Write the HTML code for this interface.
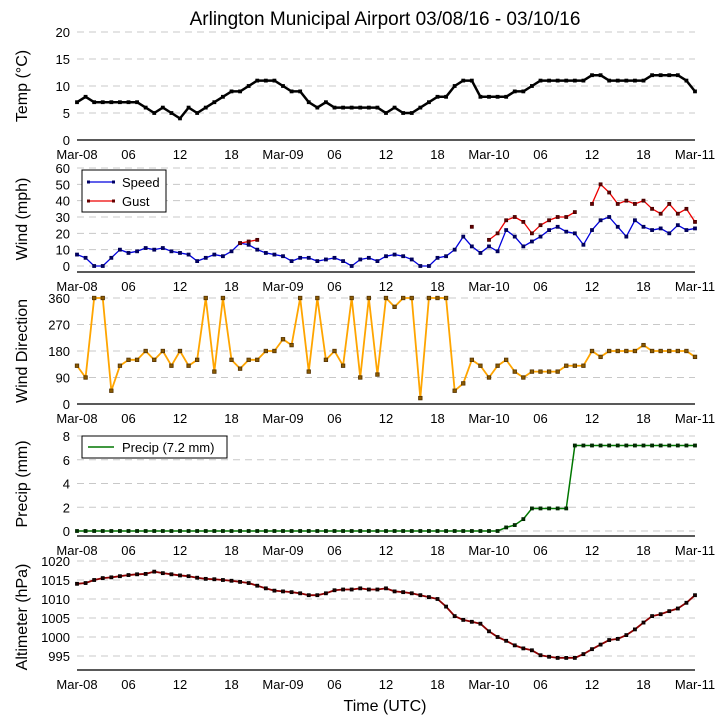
<!DOCTYPE html>
<html><head><meta charset="utf-8">
<style>
body{margin:0;background:#fff;}
svg{display:block;font-family:"Liberation Sans","DejaVu Sans",sans-serif;}
</style></head>
<body>
<svg id="chart" width="726" height="725" viewBox="0 0 726 725" xmlns="http://www.w3.org/2000/svg">
<text x="385" y="25" font-size="19" text-anchor="middle">Arlington Municipal Airport 03/08/16 - 03/10/16</text>
<text x="385" y="711" font-size="16" text-anchor="middle">Time (UTC)</text>
</svg>
<script>
// hours since Mar-08 00Z
const hours = [];
for (let i = 0; i <= 72; i++) hours.push(i);
const xTickLabels = ["Mar-08","06","12","18","Mar-09","06","12","18","Mar-10","06","12","18","Mar-11"];
const xTickHours = [0,6,12,18,24,30,36,42,48,54,60,66,72];

const tempValues = [7,8,7,7,7,7,7,7,6,5,6,5,4,6,5,6,7,8,9,9,10,11,11,11,10,9,9,7,6,7,6,6,6,6,6,6,5,6,5,5,6,7,8,8,10,11,11,8,8,8,8,9,9,10,11,11,11,11,11,11,12,12,11,11,11,11,11,12,12,12,12,11,9];
const speedValues = [7,5,0,0,5,10,8,9,11,10,11,9,8,7,3,5,7,6,9,14,13,10,8,7,6,3,5,5,3,4,5,3,0,4,5,3,6,7,6,4,0,0,5,6,10,18,12,8,12,9,22,18,12,15,18,22,24,21,20,13,22,28,30,24,18,28,24,22,23,20,25,22,23];
const gustValues = [null,null,null,null,null,null,null,null,null,null,null,null,null,null,null,null,null,null,null,14,15,16,null,null,null,null,null,null,null,null,null,null,null,null,null,null,null,null,null,null,null,null,null,null,null,null,24,null,16,20,28,30,27,20,25,28,30,30,33,null,38,50,45,38,40,38,40,35,32,38,32,35,27];
const dirValues = [130,90,360,360,45,130,150,150,180,150,180,130,180,130,150,360,110,360,150,120,150,150,180,180,220,200,360,110,360,150,180,130,360,90,360,100,360,330,360,360,20,360,360,360,45,70,150,130,90,130,150,110,90,110,110,110,110,130,130,130,180,160,180,180,180,180,200,180,180,180,180,180,160];
const precipValues = [0,0,0,0,0,0,0,0,0,0,0,0,0,0,0,0,0,0,0,0,0,0,0,0,0,0,0,0,0,0,0,0,0,0,0,0,0,0,0,0,0,0,0,0,0,0,0,0,0,0,0.3,0.5,1.0,1.9,1.9,1.9,1.9,1.9,7.2,7.2,7.2,7.2,7.2,7.2,7.2,7.2,7.2,7.2,7.2,7.2,7.2,7.2,7.2];
const altValues = [1014,1014.2,1015,1015.5,1015.7,1016,1016.3,1016.5,1016.6,1017.2,1016.8,1016.5,1016.2,1016,1015.6,1015.3,1015.2,1015,1014.8,1014.5,1014.2,1013.5,1012.8,1012.2,1012,1011.8,1011.5,1011,1011,1011.5,1012.3,1012.5,1012.5,1012.8,1012.5,1012.5,1012.8,1012,1011.8,1011.5,1011,1010.5,1010,1008,1005.5,1004.5,1004,1003.5,1001.5,1000,999,997.8,997,996.5,995.2,994.8,994.5,994.5,994.5,995.5,996.8,998,999.2,999.5,1000.5,1002,1003.8,1005.5,1006,1006.8,1007.5,1009,1011];

const tempTicks = [0,5,10,15,20];
const windTicks = [0,10,20,30,40,50,60];
const dirTicks = [0,90,180,270,360];
const precipTicks = [0,2,4,6,8];
const altTicks = [995,1000,1005,1010,1015,1020];

const NS = "http://www.w3.org/2000/svg";
const svg = document.getElementById("chart");
const X0 = 77, X1 = 695;
function xScale(h){ return X0 + (h/72)*(X1-X0); }
function mk(tag, attrs, parent){
  const e = document.createElementNS(NS, tag);
  for (const k in attrs) e.setAttribute(k, attrs[k]);
  (parent||svg).appendChild(e);
  return e;
}
function linScale(v0,p0,v1,p1){ return v => p0 + (v-v0)*(p1-p0)/(v1-v0); }

function panel(name, top, bottom, yScale, ticks, label, labelY){
  const g = mk("g", {});
  
  
  ticks.forEach(t => {
    const y = yScale(t);
    const gl = mk("line", {x1:X0, x2:X1, y1:y, y2:y, stroke:"#c8c8c8", "stroke-dasharray":"7,5", "stroke-width":1}, g);
    
    
    const tl = mk("text", {x:70, y:y+5, "font-size":13, "text-anchor":"end"}, g);
    tl.textContent = t;
    
    
  });
  const ax = mk("line", {x1:X0, x2:X1, y1:bottom, y2:bottom, stroke:"#222", "stroke-width":1.5}, g);
  
  
  xTickHours.forEach((h,i) => {
    const t = mk("text", {x:xScale(h), y:bottom+19, "font-size":13, "text-anchor":"middle"}, g);
    t.textContent = xTickLabels[i];
    
    
  });
  const yl = mk("text", {x:0, y:0, "font-size":16, "text-anchor":"middle", transform:`translate(27,${labelY}) rotate(-90)`}, g);
  yl.textContent = label;
  
  
  return g;
}

function series(name, vals, yScale, color, mcolor, mfill, msize, lw){
  const g = mk("g", {});
  
  
  let segs = [], cur = [];
  vals.forEach((v,i) => {
    if (v === null || v === undefined) { if (cur.length) segs.push(cur); cur = []; }
    else cur.push([xScale(hours[i]), yScale(v)]);
  });
  if (cur.length) segs.push(cur);
  segs.forEach(s => {
    const p = mk("polyline", {points:s.map(q=>q.join(",")).join(" "), fill:"none", stroke:color, "stroke-width":lw, "stroke-linejoin":"round"}, g);
    
    
  });
  vals.forEach((v,i) => {
    if (v === null || v === undefined) return;
    const r = mk("rect", {x:xScale(hours[i])-msize/2, y:yScale(v)-msize/2, width:msize, height:msize, fill:mfill, stroke:mcolor, "stroke-width":0.8}, g);
    
    
  });
}

// Panel 1: temperature
const yT = linScale(0,140,20,32);
panel("temp", 32, 140, yT, tempTicks, "Temp (\u00B0C)", 86);
series("temp", tempValues, yT, "#000", "#000", "#000", 3, 2.5);

// Panel 2: wind
const yW = linScale(0,266,60,168);
panel("wind", 163, 272, yW, windTicks, "Wind (mph)", 219);
series("speed", speedValues, yW, "#0000dd", "#000055", "#000066", 3, 1.3);
series("gust", gustValues, yW, "#ee0000", "#440000", "#660000", 3, 1.3);
// legend
(function(){
  const g = mk("g", {});
  
  
  mk("rect", {x:82, y:170, width:84, height:42, fill:"#fff", stroke:"#000", "stroke-width":1}, g);
  [["Speed","#0000dd","#000066",182],["Gust","#ee0000","#660000",201]].forEach(e => {
    const l = mk("line", {x1:88, x2:114, y1:e[3], y2:e[3], stroke:e[1], "stroke-width":1.3}, g);
    
    
    mk("rect", {x:87, y:e[3]-1.5, width:3, height:3, fill:e[2]}, g);
    mk("rect", {x:112, y:e[3]-1.5, width:3, height:3, fill:e[2]}, g);
    const t = mk("text", {x:122, y:e[3]+5, "font-size":13}, g);
    t.textContent = e[0];
    
    
  });
})();

// Panel 3: direction
const yD = linScale(0,404,360,298);
panel("direction", 292, 404, yD, dirTicks, "Wind Direction", 351);
series("direction", dirValues, yD, "#ffa500", "#553300", "#8b5a00", 3.5, 1.8);

// Panel 4: precip
const yP = linScale(0,531,8,436);
panel("precip", 430, 536, yP, precipTicks, "Precip (mm)", 484);
series("precip", precipValues, yP, "#007700", "#002200", "#003300", 3, 1.5);
(function(){
  const g = mk("g", {});
  
  
  mk("rect", {x:82, y:436, width:145, height:22, fill:"#fff", stroke:"#000", "stroke-width":1}, g);
  const l = mk("line", {x1:88, x2:114, y1:447, y2:447, stroke:"#007700", "stroke-width":1.5}, g);
  
  
  const t = mk("text", {x:122, y:452, "font-size":13}, g);
  t.textContent = "Precip (7.2 mm)";
  
  
})();

// Panel 5: altimeter
const yA = linScale(995,656,1020,561);
panel("altimeter", 556, 670, yA, altTicks, "Altimeter (hPa)", 617);
series("altimeter", altValues, yA, "#8b0000", "#000", "#220000", 3, 1.8);
</script>
</body></html>
